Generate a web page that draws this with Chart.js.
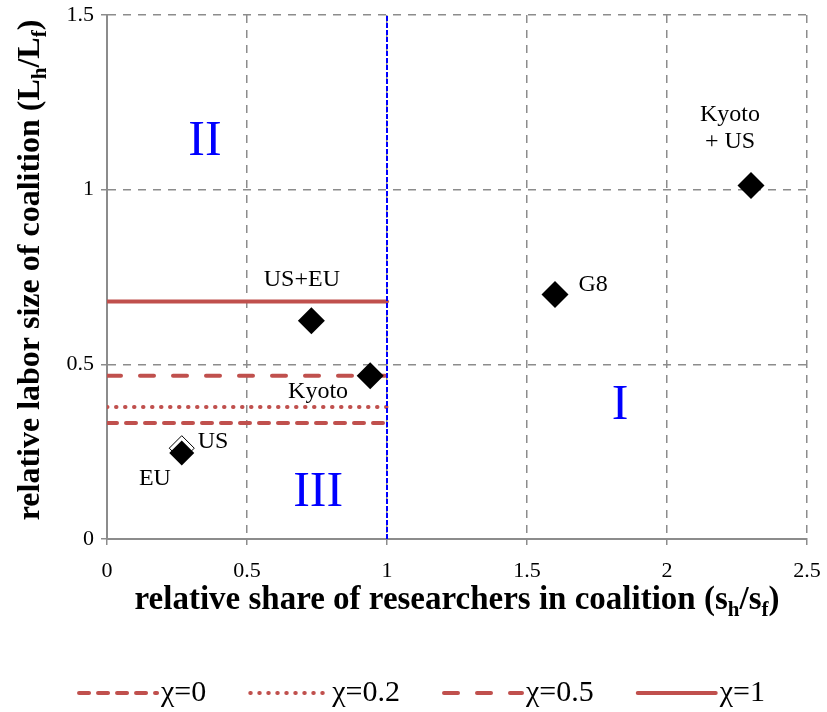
<!DOCTYPE html>
<html>
<head>
<meta charset="utf-8">
<script src="https://cdn.jsdelivr.net/npm/chart.js@4/dist/chart.umd.min.js"></script>
<style>
  html, body { margin: 0; padding: 0; background: #fff; }
  #wrap { width: 827px; height: 712px; }
</style>
</head>
<body>
<div id="wrap"><canvas id="myChart" width="827" height="712"></canvas></div>
<script>
// Coalitions: relative share of researchers (x) vs relative labor size (y)
const coalitionNames = ['Kyoto + US', 'G8', 'US+EU', 'Kyoto', 'EU'];
const researcherShare = [2.30, 1.60, 0.73, 0.94, 0.267];
const laborSize = [1.012, 0.70, 0.625, 0.467, 0.246];

// US alone, hidden just behind EU (white marker)
const usShare = [0.267];
const usLabor = [0.26];

// threshold lines for each chi, running from x=0 to x=1
const chiLabels = ['χ=0', 'χ=0.2', 'χ=0.5', 'χ=1'];
const chiLevels = [0.332, 0.378, 0.467, 0.68];
const chiRange = [0, 1];

// vertical boundary at s_h/s_f = 1
const boundaryX = 1;
const boundaryY = [0, 1.5];

// axis ticks
const xTicks = [0, 0.5, 1, 1.5, 2, 2.5];
const yTicks = [0, 0.5, 1, 1.5];

// text annotations (data units)
const pointLabels = [
    { text: 'Kyoto', x: 2.225, y: 1.214 },
    { text: '+ US', x: 2.225, y: 1.137 },
    { text: 'G8', x: 1.736, y: 0.727 },
    { text: 'US+EU', x: 0.696, y: 0.741 },
    { text: 'Kyoto', x: 0.754, y: 0.421 },
    { text: 'US', x: 0.379, y: 0.278 },
    { text: 'EU', x: 0.171, y: 0.172 }
];
const regionLabels = [
    { text: 'II', x: 0.35, y: 1.137 },
    { text: 'I', x: 1.832, y: 0.381 },
    { text: 'III', x: 0.754, y: 0.132 }
];

const red = '#c0504d';
const gridGray = '#8c8c8c';
const serif = '"Liberation Serif", "Times New Roman", serif';

// dash style per chi line
const chiDashes = [[10, 9], [0.5, 8.5], [14, 19], []];

const chiDatasets = chiLevels.map((lvl, i) => ({
    type: 'line',
    label: chiLabels[i],
    data: chiRange.map(x => ({ x: x, y: lvl })),
    borderColor: red,
    borderWidth: 4,
    borderDash: chiDashes[i],
    borderCapStyle: 'round',
    pointRadius: 0,
    showLine: true,
    order: 3
}));

// draws "text(sub)text(sub)..." pieces centred at 0,0
function drawSubText(ctx, parts, size) {
    const mainFont = 'bold ' + size + 'px ' + serif;
    const subFont = 'bold ' + Math.round(size * 0.65) + 'px ' + serif;
    let total = 0;
    parts.forEach(p => {
        ctx.font = p.sub ? subFont : mainFont;
        p.w = ctx.measureText(p.t).width;
        total += p.w;
    });
    let x = -total / 2;
    ctx.textAlign = 'left';
    ctx.textBaseline = 'alphabetic';
    parts.forEach(p => {
        ctx.font = p.sub ? subFont : mainFont;
        ctx.fillText(p.t, x, p.sub ? size * 0.22 : 0);
        x += p.w;
    });
}

const labelsPlugin = {
    id: 'labels',
    afterDatasetsDraw(chart) {
        const ctx = chart.ctx;
        const xs = chart.scales.x;
        const ys = chart.scales.y;
        ctx.save();
        ctx.textAlign = 'center';
        ctx.textBaseline = 'middle';
        ctx.fillStyle = '#000';
        ctx.font = '24px ' + serif;
        pointLabels.forEach(l => {
            ctx.fillText(l.text, xs.getPixelForValue(l.x), ys.getPixelForValue(l.y));
        });
        ctx.fillStyle = '#0000ff';
        ctx.font = '50px ' + serif;
        regionLabels.forEach(l => {
            ctx.fillText(l.text, xs.getPixelForValue(l.x), ys.getPixelForValue(l.y));
        });
        ctx.restore();
    },
    afterDraw(chart) {
        const ctx = chart.ctx;
        const area = chart.chartArea;
        ctx.save();
        ctx.fillStyle = '#000';

        // y axis title
        ctx.save();
        ctx.translate(39, 270);
        ctx.rotate(-Math.PI / 2);
        drawSubText(ctx, [
            { t: 'relative labor size of coalition (L' },
            { t: 'h', sub: true },
            { t: '/L' },
            { t: 'f', sub: true },
            { t: ')' }
        ], 32);
        ctx.restore();

        // x axis title
        ctx.save();
        ctx.translate((area.left + area.right) / 2, 609);
        drawSubText(ctx, [
            { t: 'relative share of researchers in coalition (s' },
            { t: 'h', sub: true },
            { t: '/s' },
            { t: 'f', sub: true },
            { t: ')' }
        ], 33);
        ctx.restore();

        // legend
        const legendY = 693;
        const sampleLen = 82;
        const gap = 42;
        ctx.font = '30px ' + serif;
        const widths = chiLabels.map(t => sampleLen + 2 + ctx.measureText(t).width);
        const totalW = widths.reduce((a, b) => a + b, 0) + gap * (chiLabels.length - 1);
        let x = 421 - totalW / 2;
        chiLabels.forEach((t, i) => {
            ctx.strokeStyle = red;
            ctx.lineWidth = 4;
            ctx.lineCap = 'round';
            ctx.setLineDash(chiDashes[i]);
            ctx.beginPath();
            ctx.moveTo(x + 2, legendY);
            ctx.lineTo(x + sampleLen - 2, legendY);
            ctx.stroke();
            ctx.setLineDash([]);
            ctx.textAlign = 'left';
            ctx.textBaseline = 'middle';
            ctx.fillText(t, x + sampleLen + 2, legendY);
            x += widths[i] + gap;
        });
        ctx.restore();
    }
};

const ctx = document.getElementById('myChart').getContext('2d');
const myChart = new Chart(ctx, {
    type: 'scatter',
    data: {
        datasets: [
            {
                label: 'coalitions',
                data: researcherShare.map((v, i) => ({ x: v, y: laborSize[i], name: coalitionNames[i] })),
                pointStyle: 'rectRot',
                pointRadius: [13.5, 13.5, 13.5, 13.5, 12.5],
                backgroundColor: '#000',
                borderColor: '#000',
                borderWidth: 0,
                order: 0
            },
            {
                label: 'US',
                data: usShare.map((v, i) => ({ x: v, y: usLabor[i] })),
                pointStyle: 'rectRot',
                pointRadius: 12.5,
                backgroundColor: '#fff',
                borderColor: '#000',
                borderWidth: 1,
                order: 1
            },
            {
                type: 'line',
                label: 'boundary',
                data: boundaryY.map(y => ({ x: boundaryX, y: y })),
                borderColor: '#0000ff',
                borderWidth: 2,
                borderDash: [5, 2],
                pointRadius: 0,
                showLine: true,
                order: 2
            },
            ...chiDatasets
        ]
    },
    options: {
        responsive: false,
        animation: false,
        layout: { padding: { top: 15, right: 20, bottom: 113, left: 0 } },
        plugins: {
            legend: { display: false },
            tooltip: { enabled: false }
        },
        scales: {
            x: {
                type: 'linear',
                min: 0,
                max: 2.5,
                afterBuildTicks: scale => { scale.ticks = xTicks.map(v => ({ value: v })); },
                afterFit: scale => { scale.height = 60; },
                ticks: {
                    color: '#000',
                    font: { family: serif, size: 22, lineHeight: 2.0 },
                    padding: 4,
                    maxRotation: 0,
                    callback: v => String(v)
                },
                grid: {
                    color: c => (c.tick && c.tick.value === 0 ? 'rgba(0,0,0,0)' : gridGray),
                    lineWidth: 1.5,
                    tickLength: 6,
                    tickColor: gridGray
                },
                border: { color: gridGray, width: 2, dash: [8, 7] }
            },
            y: {
                type: 'linear',
                min: 0,
                max: 1.5,
                afterBuildTicks: scale => { scale.ticks = yTicks.map(v => ({ value: v })); },
                afterFit: scale => { scale.width = 107; },
                ticks: {
                    color: '#000',
                    font: { family: serif, size: 22, lineHeight: 0.7 },
                    padding: 7,
                    callback: v => String(v)
                },
                grid: {
                    color: c => (c.tick && c.tick.value === 0 ? 'rgba(0,0,0,0)' : gridGray),
                    lineWidth: 1.5,
                    tickLength: 6,
                    tickColor: gridGray
                },
                border: { color: gridGray, width: 2, dash: [8, 7] }
            }
        }
    },
    plugins: [labelsPlugin]
});
</script>
</body>
</html>
